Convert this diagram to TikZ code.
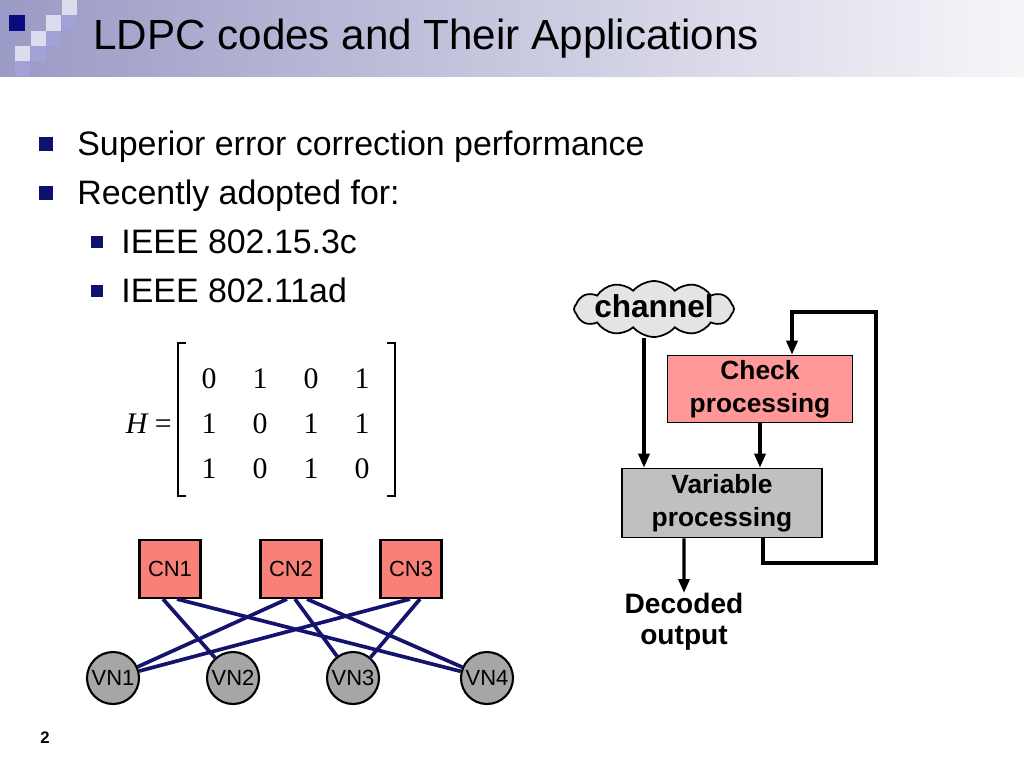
\documentclass[tikz,border=0pt]{standalone}
\usepackage{fontspec}
\setmainfont{Liberation Sans}
\newfontfamily\timesfont{Liberation Serif}
\usetikzlibrary{arrows.meta,shapes.symbols,positioning,calc}

\definecolor{titleblue}{HTML}{9A9AC6}
\definecolor{titlewhite}{HTML}{F6F6F9}
\definecolor{sqdark}{HTML}{0A0A80}
\definecolor{sqlight}{HTML}{DCDCEE}
\definecolor{sqmid}{HTML}{A2A2D8}
\definecolor{navybullet}{RGB}{16,16,112}
\definecolor{edgeblue}{HTML}{14146E}
\definecolor{checkpink}{HTML}{FF9999}
\definecolor{vargray}{HTML}{C0C0C0}
\definecolor{cloudgray}{HTML}{E4E4E4}
\definecolor{cnred}{HTML}{F88078}
\definecolor{vngray}{HTML}{A6A6A6}

\tikzset{
  itemtext/.style={anchor=base west, inner sep=0, font=\fontsize{19.3}{23}\selectfont},
  entry/.style={inner sep=0, font=\timesfont\fontsize{17}{20}\selectfont},
  procbox/.style={draw, line width=0.9pt, align=center, inner sep=0,
    font=\bfseries\fontsize{15}{18.5}\selectfont},
  cnbox/.style={draw, line width=1.2pt, fill=cnred, minimum width=1.22cm,
    minimum height=1.16cm, inner sep=0, font=\fontsize{12.5}{14}\selectfont},
  vncirc/.style={circle, draw, line width=1.2pt, fill=vngray, minimum size=1.04cm,
    inner sep=0, font=\fontsize{12.5}{14}\selectfont},
  tanner/.style={draw=edgeblue, line width=2.1pt},
  flow/.style={line width=1.9pt, -{Triangle[length=0.28cm,width=0.22cm]}}
}

\begin{document}
\begin{tikzpicture}[x=0.02cm, y=-0.02cm]
\useasboundingbox (0,0) rectangle (1024,768);

% title bar
\shade[left color=titleblue, right color=titlewhite] (0,0) rectangle (1024,76);
\fill[sqdark] (9,15) rectangle ++(16,16);
\foreach \x/\y in {62/0, 46/15, 31/31, 15/46}
  \fill[sqlight] (\x,\y) rectangle ++(15,16);
\foreach \x/\y in {62/15, 46/31, 31/46, 15/61}
  \fill[sqmid] (\x,\y) rectangle ++(15,15);
\node[anchor=base west, inner sep=0, font=\fontsize{24}{28}\selectfont] (title) at (93,49)
  {LDPC codes and Their Applications};

% bullets
\foreach \x/\y/\s in {46/144/7, 46/193/7, 97/242/6, 97/291/6}
  \fill[navybullet] (\x-\s,\y-\s) rectangle (\x+\s,\y+\s);
\node[itemtext] (t1) at (77,155) {Superior error correction performance};
\node[itemtext] (t2) at (77,204) {Recently adopted for:};
\node[itemtext] (t3) at (121,253) {IEEE 802.15.3c};
\node[itemtext] (t4) at (121,302) {IEEE 802.11ad};

% parity check matrix
\node[entry, anchor=east] (hlabel) at (172,424) {{\itshape H} =};
\foreach \row [count=\i] in {{0,1,0,1},{1,0,1,1},{1,0,1,0}}
  \foreach \v [count=\j] in \row
    \node[entry] (h\i\j) at (158+51*\j, 334+45*\i) {\v};
\draw[line width=1.1pt] (186,343) -- (178,343) -- (178,496) -- (186,496);
\draw[line width=1.1pt] (387,343) -- (395,343) -- (395,496) -- (387,496);

% decoder loop
\node[cloud, cloud puffs=12, cloud puff arc=100, cloud ignores aspect, draw,
  line width=1pt, fill=cloudgray, minimum width=3.2cm, minimum height=1.12cm,
  inner xsep=-0.45cm, inner ysep=-0.2cm,
  font=\bfseries\fontsize{18}{20}\selectfont] (chan) at (654,309) {\raisebox{3pt}{channel}};
\node[procbox, fill=checkpink, minimum width=3.7cm, minimum height=1.34cm] (chk)
  at (760,389) {Check\\processing};
\node[procbox, fill=vargray, minimum width=4cm, minimum height=1.38cm] (var)
  at (722,503) {Variable\\processing};
\node[anchor=north, align=center, inner sep=0,
  font=\bfseries\fontsize{16}{17.6}\selectfont] (dec) at (684,593) {Decoded\\output};
\coordinate (loopSE) at (876,563);
\coordinate (loopNW) at (792,312);
\draw[flow] ([xshift=-0.2cm]chan.south) -- ([xshift=-0.2cm]chan.south |- var.north);
\draw[flow] (chk.south) -- (chk.south |- var.north);
\draw[flow] ([xshift=-0.76cm]var.south) -- (dec.north);
\draw[flow] ([xshift=0.82cm]var.south) |- (loopSE) |- (loopNW) -- (loopNW |- chk.north);

% Tanner graph
\foreach \n/\x in {1/170, 2/291, 3/411}
  \node[cnbox] (cn\n) at (\x,569) {CN\n};
\foreach \n/\x in {1/113, 2/233, 3/353, 4/487}
  \node[vncirc] (vn\n) at (\x,678) {VN\n};
\foreach \c/\dx/\v in {1/-7/2, 1/7/4, 2/-4/1, 2/4/3, 2/16/4, 3/-1/1, 3/9/3}
  \draw[tanner] ($(cn\c.south)+(\dx,0)$) -- (vn\v);

\node[inner sep=0, font=\bfseries\fontsize{9.5}{11}\selectfont] (pagenum) at (45,738) {2};
\end{tikzpicture}
\end{document}
